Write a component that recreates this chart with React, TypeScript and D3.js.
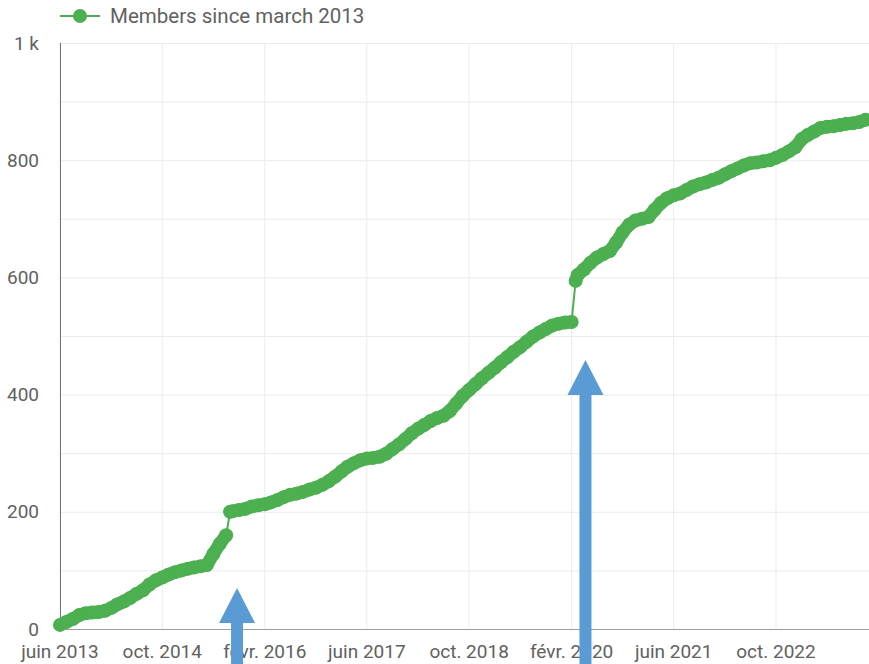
import { useEffect, useRef } from "react";
import * as d3 from "d3";

// monthly member counts, jun 2013 -> dec 2023 (extra mid-month points at the two jumps)
const dates = [
  "2013-06-01","2013-07-01","2013-08-01","2013-09-01","2013-10-01","2013-11-01","2013-12-01",
  "2014-01-01","2014-02-01","2014-03-01","2014-04-01","2014-05-01","2014-06-01","2014-07-01",
  "2014-08-01","2014-09-01","2014-10-01","2014-11-01","2014-12-01","2015-01-01","2015-02-01",
  "2015-03-01","2015-04-01","2015-05-01","2015-06-01","2015-07-01","2015-08-01","2015-08-20",
  "2015-09-01","2015-10-01","2015-11-01","2015-12-01","2016-01-01","2016-02-01","2016-03-01",
  "2016-04-01","2016-05-01","2016-06-01","2016-07-01","2016-08-01","2016-09-01","2016-10-01",
  "2016-11-01","2016-12-01","2017-01-01","2017-02-01","2017-03-01","2017-04-01","2017-05-01",
  "2017-06-01","2017-07-01","2017-08-01","2017-09-01","2017-10-01","2017-11-01","2017-12-01",
  "2018-01-01","2018-02-01","2018-03-01","2018-04-01","2018-05-01","2018-06-01","2018-07-01",
  "2018-08-01","2018-09-01","2018-10-01","2018-11-01","2018-12-01","2019-01-01","2019-02-01",
  "2019-03-01","2019-04-01","2019-05-01","2019-06-01","2019-07-01","2019-08-01","2019-09-01",
  "2019-10-01","2019-11-01","2019-12-01","2020-01-01","2020-02-01","2020-02-20","2020-03-01",
  "2020-04-01","2020-05-01","2020-06-01","2020-07-01","2020-08-01","2020-09-01","2020-10-01",
  "2020-11-01","2020-12-01","2021-01-01","2021-02-01","2021-03-01","2021-04-01","2021-05-01",
  "2021-06-01","2021-07-01","2021-08-01","2021-09-01","2021-10-01","2021-11-01","2021-12-01",
  "2022-01-01","2022-02-01","2022-03-01","2022-04-01","2022-05-01","2022-06-01","2022-07-01",
  "2022-08-01","2022-09-01","2022-10-01","2022-11-01","2022-12-01","2023-01-01","2023-02-01",
  "2023-03-01","2023-04-01","2023-05-01","2023-06-01","2023-07-01","2023-08-01","2023-09-01",
  "2023-10-01","2023-11-01","2023-12-01",
];
const members = [
  7, 12, 17, 24, 27, 28, 29,
  31, 36, 42, 47, 53, 60, 66,
  76, 83, 88, 93, 97, 100, 103,
  105, 107, 109, 128, 145, 160, 200,
  201, 203, 205, 209, 211, 213, 216,
  220, 225, 229, 231, 234, 238, 241,
  246, 252, 260, 269, 277, 283, 288,
  291, 292, 294, 299, 307, 315, 324,
  334, 342, 348, 355, 360, 364, 372,
  385, 398, 408, 418, 428, 437, 446,
  455, 464, 473, 481, 490, 499, 506,
  512, 518, 521, 523, 524, 594, 604,
  614, 625, 634, 640, 645, 660, 677,
  690, 697, 700, 703, 715, 727, 735,
  740, 743, 749, 755, 759, 762, 766,
  770, 776, 781, 786, 791, 795, 796,
  798, 800, 804, 809, 815, 822, 836,
  843, 849, 855, 857, 858, 860, 862,
  863, 865, 869,
];
const xTicks = ["2013-06-01","2014-10-01","2016-02-01","2017-06-01","2018-10-01","2020-02-01","2021-06-01","2022-10-01"];
const xTickLabels = ["juin 2013","oct. 2014","févr. 2016","juin 2017","oct. 2018","févr. 2020","juin 2021","oct. 2022"];
const yGrid = [100, 200, 300, 400, 500, 600, 700, 800, 900, 1000];
const yLabels = [0, 200, 400, 600, 800, 1000];
// arrows pointing at the two jumps: date and tip value
const arrowDates = ["2015-09-22", "2020-04-07"];
const arrowTips = [70, 459];
const seriesName = "Members since march 2013";

const W = 869, H = 664;
const green = "#4caf50";
const textCol = "#616161";

type Pt = { date: Date; value: number };

export default function App() {
  const ref = useRef<SVGSVGElement>(null);

  useEffect(() => {
    if (!ref.current) return;
    const svg = d3.select(ref.current);
    svg.selectAll("*").remove();
    const parse = d3.timeParse("%Y-%m-%d");
    const data: Pt[] = dates.map((d, i) => ({ date: parse(d)!, value: members[i] }));

    const x = d3.scaleTime()
      .domain([parse("2013-06-01")!, parse("2023-12-18")!])
      .range([60, W]);
    const y = d3.scaleLinear().domain([0, 1000]).range([629, 43]);

    const grid = svg.append("g");
    grid.selectAll("line.h").data(yGrid).join("line")
      .attr("x1", 60).attr("x2", W)
      .attr("y1", d => y(d) + 0.5).attr("y2", d => y(d) + 0.5)
      .attr("stroke", "#ebebeb").attr("stroke-width", 1);
    grid.selectAll("line.v").data(xTicks).join("line")
      .attr("x1", d => x(parse(d)!)).attr("x2", d => x(parse(d)!))
      .attr("y1", 43).attr("y2", 629)
      .attr("stroke", "#ebebeb").attr("stroke-width", 1);

    svg.append("line").attr("x1", 60.5).attr("x2", 60.5).attr("y1", 43).attr("y2", 629)
      .attr("stroke", "#757575");
    svg.append("line").attr("x1", 60).attr("x2", W).attr("y1", 629.5).attr("y2", 629.5)
      .attr("stroke", "#9e9e9e");

    svg.append("g").selectAll("text").data(yLabels).join("text")
      .attr("x", 39).attr("y", d => y(d)).attr("dy", "0.35em")
      .attr("text-anchor", "end")
      .attr("font-family", "Roboto").attr("font-size", 19).attr("fill", textCol)
      .text(d => (d >= 1000 ? `${d / 1000} k` : `${d}`));

    svg.append("g").selectAll("text").data(xTicks).join("text")
      .attr("x", d => x(parse(d)!)).attr("y", 658)
      .attr("text-anchor", "middle")
      .attr("font-family", "Roboto").attr("font-size", 19).attr("fill", textCol)
      .text((_, i) => xTickLabels[i]);

    const line = d3.line<Pt>().x(d => x(d.date)).y(d => y(d.value));

    // split into runs at the jumps so the dense band stays thick but jumps stay thin
    const runs: Pt[][] = [[data[0]]];
    for (let i = 1; i < data.length; i++) {
      if (data[i].value - data[i - 1].value > 30) runs.push([]);
      runs[runs.length - 1].push(data[i]);
    }
    svg.append("path").datum(data)
      .attr("d", line).attr("fill", "none")
      .attr("stroke", green).attr("stroke-width", 2);
    svg.append("g").selectAll("path").data(runs).join("path")
      .attr("d", d => line(d)).attr("fill", "none")
      .attr("stroke", green).attr("stroke-width", 13)
      .attr("stroke-linejoin", "round").attr("stroke-linecap", "round");
    svg.append("g").selectAll("circle").data(data).join("circle")
      .attr("cx", d => x(d.date)).attr("cy", d => y(d.value))
      .attr("r", 7).attr("fill", green);

    // legend
    svg.append("line").attr("x1", 60).attr("x2", 100).attr("y1", 16).attr("y2", 16)
      .attr("stroke", green).attr("stroke-width", 2);
    svg.append("circle").attr("cx", 80).attr("cy", 16).attr("r", 7).attr("fill", green);
    svg.append("text").attr("x", 110).attr("y", 16).attr("dy", "0.35em")
      .attr("font-family", "Roboto").attr("font-size", 20.5).attr("fill", textCol)
      .text(seriesName);

    // annotation arrows
    const arrows = svg.append("g");
    arrowDates.forEach((d, i) => {
      const cx = x(parse(d)!);
      const tip = y(arrowTips[i]);
      const path = d3.path();
      path.moveTo(cx, tip);
      path.lineTo(cx + 18, tip + 35);
      path.lineTo(cx + 6, tip + 35);
      path.lineTo(cx + 6, H);
      path.lineTo(cx - 6, H);
      path.lineTo(cx - 6, tip + 35);
      path.lineTo(cx - 18, tip + 35);
      path.closePath();
      arrows.append("path").attr("d", path.toString()).attr("fill", "#5b9bd5");
    });
  }, []);

  return (
    <svg ref={ref} width={W} height={H}
      style={{ position: "absolute", left: 0, top: 0, background: "#fff" }} />
  );
}
